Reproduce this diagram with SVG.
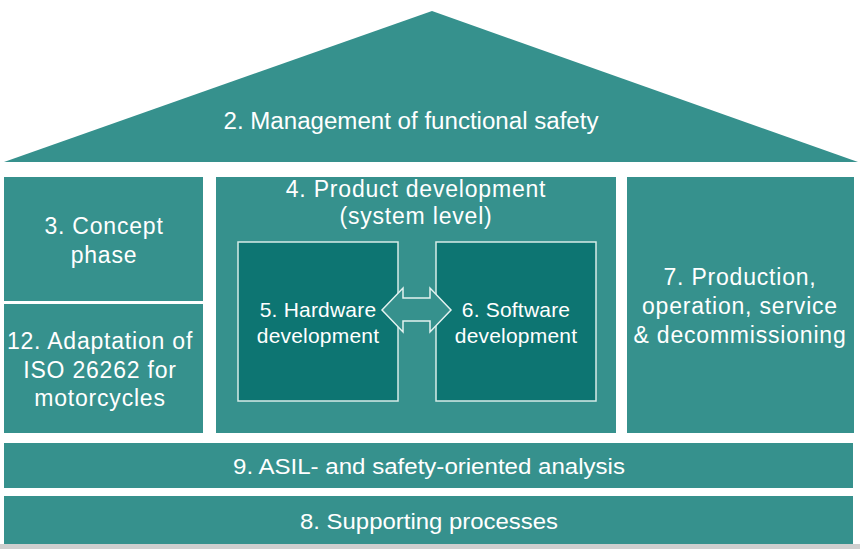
<svg xmlns="http://www.w3.org/2000/svg" width="860" height="549" viewBox="0 0 860 549">
<style>
.blk{fill:#36918d}
.inner{fill:#0d7572;stroke:#d6ebe8;stroke-width:1.5}
.t{font-family:"Liberation Sans",Arial,sans-serif;fill:#ffffff;text-anchor:middle}
.big{font-size:23px;letter-spacing:0.8px}
.sm{font-size:21px;letter-spacing:0.2px}
</style>
<rect width="860" height="549" fill="#ffffff"/>
<rect x="0" y="544" width="860" height="5" fill="#cfcfcf"/>
<g id="n2">
<polygon class="blk" points="432,11 858,162 4,162"/>
<text class="t" x="411" y="129" textLength="375" lengthAdjust="spacingAndGlyphs" style="font-size:23px">2. Management of functional safety</text>
</g>
<g id="n3">
<rect class="blk" x="4" y="177" width="199" height="124"/>
<text class="t big" x="104" y="234">3. Concept</text>
<text class="t big" x="104" y="263">phase</text>
</g>
<g id="n12">
<rect class="blk" x="4" y="304" width="199" height="129"/>
<text class="t big" x="100" y="349">12. Adaptation of</text>
<text class="t big" x="100" y="378">ISO 26262 for</text>
<text class="t big" x="100" y="406">motorcycles</text>
</g>
<g id="n4">
<rect class="blk" x="216" y="177" width="400" height="256"/>
<text class="t big" x="416" y="197">4. Product development</text>
<text class="t big" x="416" y="224">(system level)</text>
</g>
<g id="n5">
<rect class="inner" x="238" y="242" width="160" height="159"/>
<text class="t sm" x="318" y="317">5. Hardware</text>
<text class="t sm" x="318" y="343">development</text>
</g>
<g id="n6">
<rect class="inner" x="436" y="242" width="160" height="159"/>
<text class="t sm" x="516" y="317">6. Software</text>
<text class="t sm" x="516" y="343">development</text>
</g>
<g id="n7">
<rect class="blk" x="627" y="177" width="227" height="256"/>
<text class="t big" x="740" y="285">7. Production,</text>
<text class="t big" x="740" y="314">operation, service</text>
<text class="t big" x="740" y="343">&amp; decommissioning</text>
</g>
<g id="n9">
<rect class="blk" x="4" y="443" width="849" height="45"/>
<text class="t" x="429" y="474" textLength="392" lengthAdjust="spacingAndGlyphs" style="font-size:22px">9. ASIL- and safety-oriented analysis</text>
</g>
<g id="n8">
<rect class="blk" x="4" y="496" width="849" height="48"/>
<text class="t" x="429" y="529" textLength="258" lengthAdjust="spacingAndGlyphs" style="font-size:22px">8. Supporting processes</text>
</g>
<g id="connectors">
<polygon fill="#36918d" stroke="#e4f2f0" stroke-width="1.5" points="382,310 403,288 403,298 430,298 430,288 451,310 430,332 430,321 403,321 403,332"/>
</g>
</svg>
